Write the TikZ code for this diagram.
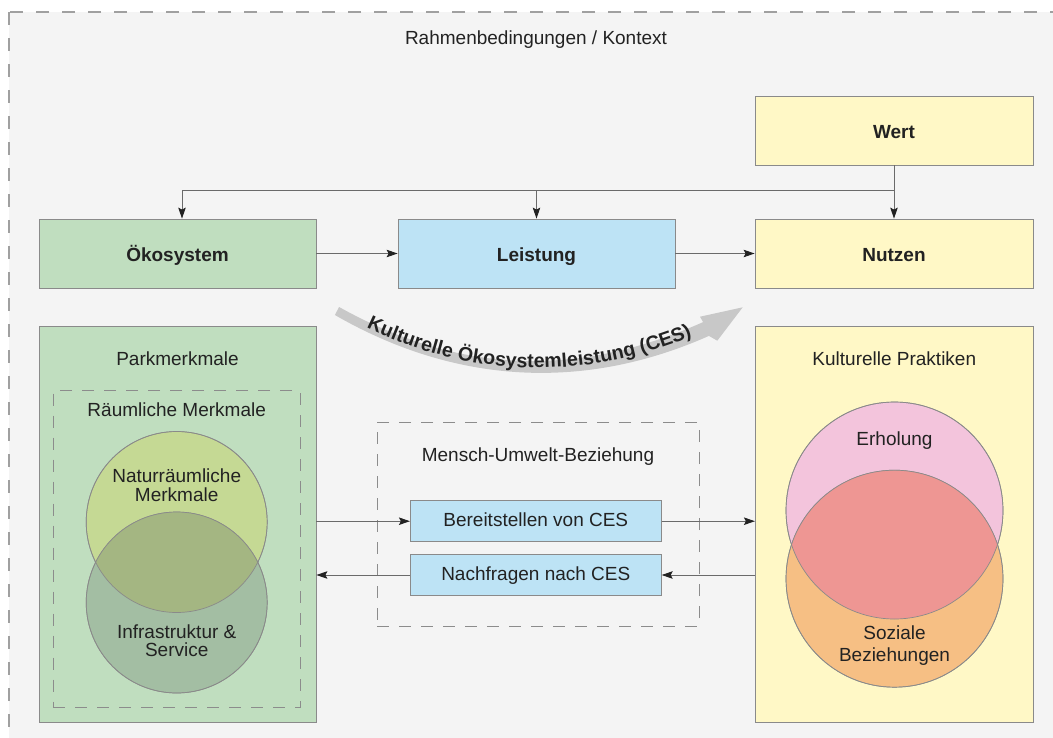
\documentclass[tikz,border=0pt]{standalone}
\usepackage{fontspec}
\setmainfont{Liberation Sans}
\usetikzlibrary{arrows.meta,decorations.text}
\definecolor{bg}{HTML}{F4F4F4}
\definecolor{grn}{HTML}{C0DEBF}
\definecolor{blu}{HTML}{BDE3F5}
\definecolor{yel}{HTML}{FFF8C6}
\definecolor{natc}{HTML}{C5D994}
\definecolor{infc}{HTML}{A3BEA3}
\definecolor{lensl}{HTML}{A4B682}
\definecolor{pnk}{HTML}{F3C4DC}
\definecolor{org}{HTML}{F6BF84}
\definecolor{lensr}{HTML}{EE9693}
\definecolor{bandc}{HTML}{C8C8C8}
\definecolor{boxline}{HTML}{8A8A8A}
\definecolor{dashc}{HTML}{8C8C8C}
\definecolor{outerc}{HTML}{A0A0A0}
\definecolor{linec}{HTML}{6A6A6A}
\definecolor{tipc}{HTML}{222222}
\definecolor{txtc}{HTML}{222222}
\begin{document}
\begin{tikzpicture}[x=1pt,y=1pt,
  txt/.style={font=\fontsize{19}{20}\selectfont, text=txtc, inner sep=0pt, anchor=base},
  btxt/.style={font=\fontsize{19}{20}\selectfont\bfseries, text=txtc, text height=16pt, text depth=0pt},
  itxt/.style={font=\fontsize{19}{20}\selectfont, text=txtc, text height=11.2pt, text depth=0pt},
  boxe/.style={draw=boxline, line width=0.8pt, inner sep=0pt},
  dashbox/.style={draw=dashc, line width=0.9pt, dash pattern=on 12pt off 10pt, inner sep=0pt},
  circ/.style={circle, draw=boxline, line width=0.7pt, inner sep=0pt},
  conn/.style={draw=linec, line width=0.9pt},
  arr/.style={conn, -{Stealth[length=11pt,width=7.5pt,inset=2pt,color=tipc]}}
]
\useasboundingbox (0,0) rectangle (1053,-737);
\fill[white] (0,0) rectangle (1053,-737);
\clip (0,0) rectangle (1053,-737);
% outer frame
\draw[draw=outerc, fill=bg, line width=1.1pt, dash pattern=on 13pt off 13pt] (9,-12) rectangle (1075,-760);
\node[txt] (title) at (536,-44.5) {Rahmenbedingungen / Kontext};

% top boxes
\node[boxe, fill=yel, minimum width=278pt, minimum height=69pt, btxt] (wert) at (894,-130.5) {Wert};
\node[boxe, fill=grn, minimum width=277pt, minimum height=69pt, btxt] (oeko) at (177.5,-253.5) {Ökosystem};
\node[boxe, fill=blu, minimum width=277pt, minimum height=69pt, btxt] (leist) at (536.5,-253.5) {Leistung};
\node[boxe, fill=yel, minimum width=278pt, minimum height=69pt, btxt] (nutzen) at (894,-253.5) {Nutzen};

\coordinate (j) at (894,-190);
\coordinate (jl) at (182,-190);
\draw[arr] (wert.south) -- (nutzen.north);
\draw[conn] (j) -- (jl);
\draw[arr] (jl) -- (jl |- oeko.north);
\draw[arr] (leist.north |- j) -- (leist.north);
\draw[arr] (oeko.east) -- (leist.west);
\draw[arr] (leist.east) -- (nutzen.west);

% curved band arrow
\fill[bandc] (339.1,-307.0) .. controls (459.5,-374.2) and (577.0,-378.1) .. (703.1,-322.1)
  -- (700,-316.7) -- (742.7,-307.3) -- (717.3,-340.7) -- (708.9,-335.9)
  .. controls (582.8,-391.9) and (454.3,-383.8) .. (334.9,-315.0) -- cycle;
\path[decorate, decoration={text along path, text align={center, left indent=18pt}, raise=-1pt,
  text={|\fontsize{19.6}{20}\selectfont\bfseries\color{txtc}|Kulturelle Ökosystemleistung (CES)}}]
  (337,-311) .. controls (456.9,-379) and (579.9,-385) .. (706,-329);

% left panel
\node[boxe, fill=grn, minimum width=277pt, minimum height=396pt] (park) at (177.5,-524) {};
\node[txt] (parkl) at (177.5,-365) {Parkmerkmale};
\node[dashbox, minimum width=247pt, minimum height=317pt] (raeum) at (176.7,-549.2) {};
\node[txt] (raeuml) at (176.7,-416.7) {Räumliche Merkmale};
\node[circ, fill=natc, minimum size=181pt] (nat) at (176.7,-522) {};
\node[circ, fill=infc, minimum size=181pt] (inf) at (176.7,-602.5) {};
\begin{scope}
  \clip (nat.center) circle (90.5);
  \fill[lensl] (inf.center) circle (90.5);
\end{scope}
\draw[draw=boxline, line width=0.7pt] (nat.center) circle (90.5);
\draw[draw=boxline, line width=0.7pt] (inf.center) circle (90.5);
\node[txt] (natl1) at (176.7,-482.3) {Naturräumliche};
\node[txt] (natl2) at (176.7,-501.7) {Merkmale};
\node[txt] (infl1) at (176.7,-638.3) {Infrastruktur \&};
\node[txt] (infl2) at (176.7,-656.7) {Service};

% right panel
\node[boxe, fill=yel, minimum width=278pt, minimum height=396pt] (prak) at (894.3,-524) {};
\node[txt] (prakl) at (894.3,-365) {Kulturelle Praktiken};
\node[circ, fill=pnk, minimum size=217pt] (erh) at (894.5,-510.5) {};
\node[circ, fill=org, minimum size=217pt] (soz) at (894.5,-578.7) {};
\begin{scope}
  \clip (erh.center) circle (108.5);
  \fill[lensr] (soz.center) circle (108.5);
\end{scope}
\draw[draw=boxline, line width=0.7pt] (erh.center) circle (108.5);
\draw[draw=boxline, line width=0.7pt] (soz.center) circle (108.5);
\node[txt] (erhl) at (894.5,-445) {Erholung};
\node[txt] (sozl1) at (894.5,-639.3) {Soziale};
\node[txt] (sozl2) at (894.5,-661.7) {Beziehungen};

% middle
\node[dashbox, minimum width=322pt, minimum height=204pt] (mensch) at (538,-524) {};
\node[txt] (menschl) at (538,-461) {Mensch-Umwelt-Beziehung};
\node[boxe, fill=blu, minimum width=251pt, minimum height=41pt, itxt] (bereit) at (535.8,-521.2) {Bereitstellen von CES};
\node[boxe, fill=blu, minimum width=251pt, minimum height=41pt, itxt] (nach) at (535.8,-575) {Nachfragen nach CES};

\draw[arr] (park.east |- bereit) -- (bereit.west);
\draw[arr] (bereit.east) -- (prak.west |- bereit);
\draw[arr] (prak.west |- nach) -- (nach.east);
\draw[arr] (nach.west) -- (park.east |- nach);
\end{tikzpicture}
\end{document}
